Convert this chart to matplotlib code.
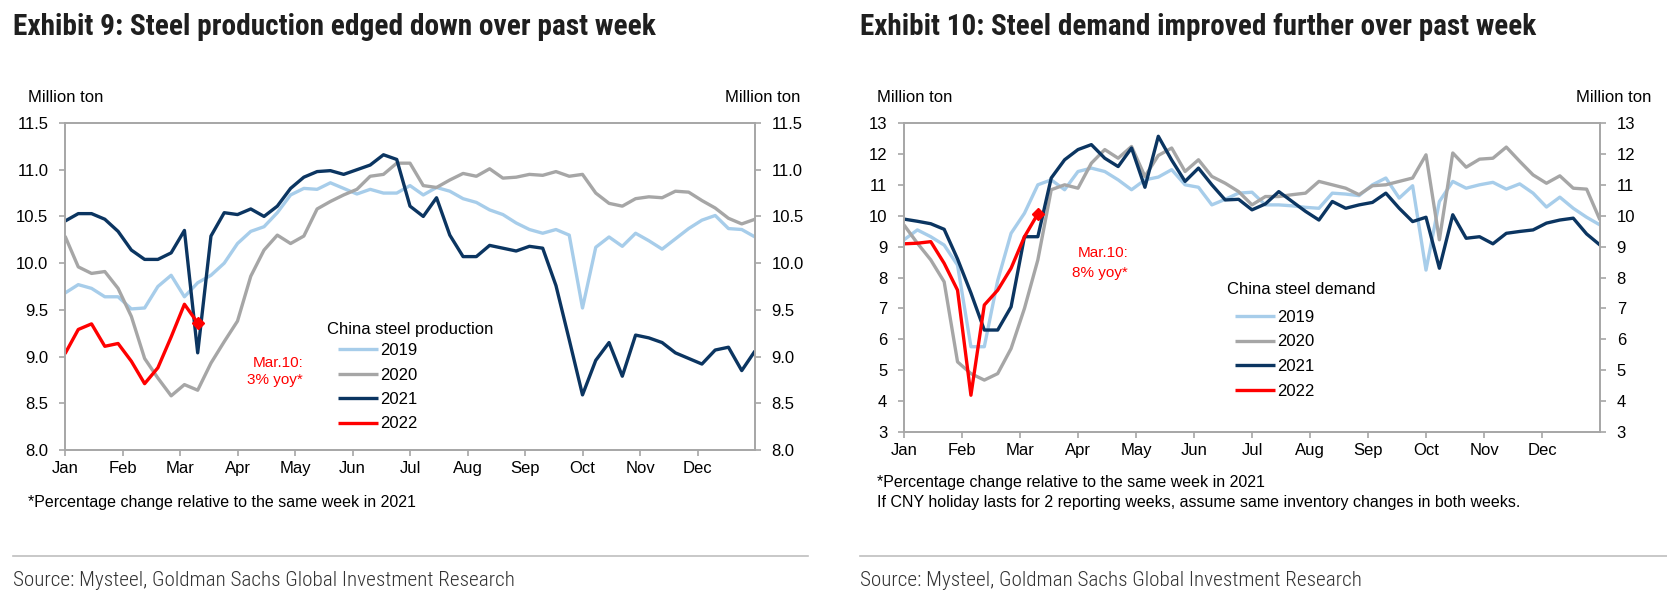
import matplotlib
matplotlib.use("Agg")
import matplotlib.pyplot as plt
from matplotlib.lines import Line2D
import numpy as np

# ---------------- data (weekly, week 0 .. 52) ----------------
months = ["Jan", "Feb", "Mar", "Apr", "May", "Jun", "Jul", "Aug", "Sep", "Oct", "Nov", "Dec"]
years = ["2019", "2020", "2021", "2022"]

prod_2019 = [9.68, 9.77, 9.73, 9.64, 9.64, 9.51, 9.52, 9.75, 9.87, 9.64, 9.79, 9.87, 10.00,
             10.21, 10.34, 10.39, 10.54, 10.73, 10.80, 10.79, 10.86, 10.80, 10.74, 10.79, 10.75,
             10.75, 10.83, 10.73, 10.81, 10.77, 10.69, 10.65, 10.57, 10.52, 10.43, 10.36, 10.32,
             10.36, 10.30, 9.52, 10.17, 10.28, 10.18, 10.32, 10.24, 10.15, 10.26, 10.37, 10.46,
             10.51, 10.37, 10.36, 10.28]
prod_2020 = [10.29, 9.96, 9.89, 9.91, 9.73, 9.43, 8.98, 8.77, 8.58, 8.70, 8.64, 8.93, 9.16,
             9.38, 9.86, 10.14, 10.30, 10.21, 10.29, 10.58, 10.66, 10.73, 10.79, 10.93, 10.95,
             11.07, 11.07, 10.83, 10.81, 10.89, 10.96, 10.93, 11.01, 10.91, 10.92, 10.95, 10.94,
             10.98, 10.93, 10.95, 10.75, 10.64, 10.61, 10.69, 10.71, 10.70, 10.77, 10.76, 10.67,
             10.59, 10.48, 10.42, 10.47]
prod_2021 = [10.45, 10.53, 10.53, 10.47, 10.34, 10.14, 10.04, 10.04, 10.11, 10.35, 9.04, 10.29,
             10.54, 10.52, 10.58, 10.50, 10.61, 10.80, 10.92, 10.98, 10.99, 10.95, 11.00, 11.05,
             11.16, 11.11, 10.61, 10.50, 10.70, 10.30, 10.07, 10.07, 10.19, 10.16, 10.13, 10.18,
             10.16, 9.76, 9.18, 8.59, 8.96, 9.15, 8.79, 9.23, 9.20, 9.15, 9.04, 8.98, 8.92,
             9.07, 9.10, 8.85, 9.06]
prod_2022 = [9.03, 9.29, 9.35, 9.11, 9.14, 8.95, 8.71, 8.88, 9.21, 9.56, 9.36]

dem_2019 = [9.22, 9.54, 9.32, 9.05, 8.40, 5.76, 5.76, 7.90, 9.43, 10.08, 11.00, 11.16, 10.84,
            11.43, 11.54, 11.43, 11.16, 10.84, 11.16, 11.25, 11.49, 11.00, 10.92, 10.35, 10.53,
            10.73, 10.76, 10.35, 10.35, 10.32, 10.27, 10.24, 10.73, 10.70, 10.65, 11.00, 11.22,
            10.57, 10.97, 8.24, 10.46, 11.11, 10.89, 11.00, 11.08, 10.86, 11.03, 10.73, 10.28,
            10.60, 10.24, 9.95, 9.70]
dem_2020 = [9.70, 9.11, 8.57, 7.86, 5.27, 4.89, 4.68, 4.89, 5.70, 7.00, 8.57, 10.84, 11.00,
            10.89, 11.70, 12.14, 11.86, 12.24, 11.27, 11.95, 12.19, 11.43, 11.81, 11.27, 11.05,
            10.78, 10.35, 10.62, 10.62, 10.68, 10.73, 11.11, 11.00, 10.89, 10.68, 10.97, 11.00,
            11.11, 11.22, 11.97, 9.22, 12.03, 11.57, 11.83, 11.86, 12.22, 11.76, 11.32, 11.05,
            11.29, 10.89, 10.86, 9.86]
dem_2021 = [9.89, 9.82, 9.74, 9.56, 8.60, 7.50, 6.30, 6.30, 7.05, 9.32, 9.32, 11.22, 11.81,
            12.14, 12.30, 11.86, 11.59, 12.19, 10.92, 12.57, 11.80, 11.11, 11.54, 11.00, 10.51,
            10.53, 10.19, 10.38, 10.78, 10.46, 10.14, 9.86, 10.46, 10.24, 10.35, 10.43, 10.73,
            10.24, 9.81, 9.95, 8.30, 10.03, 9.27, 9.32, 9.09, 9.43, 9.49, 9.54, 9.76, 9.86,
            9.92, 9.41, 9.05]
dem_2022 = [9.09, 9.11, 9.16, 8.46, 7.59, 4.19, 7.11, 7.59, 8.30, 9.32, 10.06]

prod_ticks = [8.0, 8.5, 9.0, 9.5, 10.0, 10.5, 11.0, 11.5]
dem_ticks = [3, 4, 5, 6, 7, 8, 9, 10, 11, 12, 13]

# ---------------- style ----------------
C19, C20, C21, C22 = "#A7CDEA", "#A6A6A6", "#0B3561", "#FF0000"
SPINE = "#A6A6A6"
SANS = ["Liberation Sans", "DejaVu Sans"]
COND = ["Roboto Condensed", "Liberation Sans Narrow", "DejaVu Sans"]
plt.rcParams["font.family"] = SANS

W, H = 1667, 603
fig = plt.figure(figsize=(W / 100, H / 100), dpi=100)


def fx(px):
    return px / W


def fy(py):
    return 1 - py / H


def px_axes(l, t, r, b):
    return fig.add_axes([fx(l), fy(b), (r - l) / W, (b - t) / H])


def setup(ax, ticks, fmt, ylim, pad):
    ax.set_xlim(0, 52)
    ax.set_ylim(*ylim)
    mpos = [m * 52 / 12 for m in range(12)]
    ax.set_xticks(mpos)
    ax.set_xticklabels(months, fontsize=12)
    ax.set_yticks(ticks)
    ax.set_yticklabels([fmt.format(t) for t in ticks], fontsize=12)
    for s in ax.spines.values():
        s.set_color(SPINE)
        s.set_linewidth(1.4)
    ax.tick_params(axis="both", direction="out", length=4, width=1.2, color=SPINE)
    ax.tick_params(axis="x", pad=4)
    ax.tick_params(axis="y", left=True, right=True, labelleft=True, labelright=True, pad=pad)
    ax.patch.set_alpha(0)


def draw(ax, series, cols):
    lines = []
    for vals, c in zip(series, cols):
        wk = np.arange(len(vals))
        ln, = ax.plot(wk, vals, color=c, lw=2.4, solid_capstyle="butt", solid_joinstyle="round")
        lines.append(ln)
    return lines


def legend(ax, lines, x, y):
    ax.legend(lines, years, loc="upper left", bbox_to_anchor=(fx(x), fy(y)),
              bbox_transform=fig.transFigure, frameon=False, borderpad=0, borderaxespad=0,
              handlelength=2.4, handletextpad=0.1, labelspacing=0.57, fontsize=12)


# ---------------- left chart ----------------
axL = px_axes(65, 123, 755, 450)
setup(axL, prod_ticks, "{:.1f}", (8.0, 11.5), 8)
linesL = draw(axL, [prod_2019, prod_2020, prod_2021, prod_2022], [C19, C20, C21, C22])
axL.plot([len(prod_2022) - 1], [prod_2022[-1]], marker="D", ms=6, color=C22, zorder=5)
legend(axL, linesL, 338, 343)
fig.text(fx(327), fy(330), "China steel production", fontsize=12, va="center", ha="left")
fig.text(fx(303), fy(363), "Mar.10:", color=C22, fontsize=11, ha="right", va="center")
fig.text(fx(303), fy(380), "3% yoy*", color=C22, fontsize=11, ha="right", va="center")

# ---------------- right chart ----------------
axR = px_axes(904, 123, 1600, 432)
setup(axR, dem_ticks, "{:d}", (3, 13), 8)
linesR = draw(axR, [dem_2019, dem_2020, dem_2021, dem_2022], [C19, C20, C21, C22])
axR.plot([len(dem_2022) - 1], [dem_2022[-1]], marker="D", ms=6, color=C22, zorder=5)
legend(axR, linesR, 1235, 310)
fig.text(fx(1227), fy(290), "China steel demand", fontsize=12, va="center", ha="left")
fig.text(fx(1128), fy(253), "Mar.10:", color=C22, fontsize=11, ha="right", va="center")
fig.text(fx(1128), fy(273), "8% yoy*", color=C22, fontsize=11, ha="right", va="center")

# ---------------- titles, units, notes ----------------
TITLE_C = "#1F1F1F"
fig.text(fx(13), fy(35), "Exhibit 9: Steel production edged down over past week",
         family=COND, fontweight="bold", fontsize=21.2, color=TITLE_C, va="baseline")
fig.text(fx(860), fy(35), "Exhibit 10: Steel demand improved further over past week",
         family=COND, fontweight="bold", fontsize=21.0, color=TITLE_C, va="baseline")

fig.text(fx(28), fy(98), "Million ton", fontsize=12, va="center", ha="left")
fig.text(fx(800), fy(98), "Million ton", fontsize=12, va="center", ha="right")
fig.text(fx(877), fy(98), "Million ton", fontsize=12, va="center", ha="left")
fig.text(fx(1651), fy(98), "Million ton", fontsize=12, va="center", ha="right")

fig.text(fx(28), fy(502), "*Percentage change relative to the same week in 2021",
         fontsize=11.5, va="center")
fig.text(fx(877), fy(483), "*Percentage change relative to the same week in 2021",
         fontsize=11.5, va="center")
fig.text(fx(877), fy(503),
         "If CNY holiday lasts for 2 reporting weeks, assume same inventory changes in both weeks.",
         fontsize=11.5, va="center")

fig.add_artist(Line2D([fx(13), fx(808)], [fy(556), fy(556)], color="#BFBFBF", lw=1.2))
fig.add_artist(Line2D([fx(860), fx(1667)], [fy(556), fy(556)], color="#BFBFBF", lw=1.2))
src = "Source: Mysteel, Goldman Sachs Global Investment Research"
fig.text(fx(13), fy(581), src, family=COND, fontweight="light", fontsize=15.2,
         color="#333333", va="center")
fig.text(fx(860), fy(581), src, family=COND, fontweight="light", fontsize=15.2,
         color="#333333", va="center")

fig.savefig("out.png", dpi=100)
